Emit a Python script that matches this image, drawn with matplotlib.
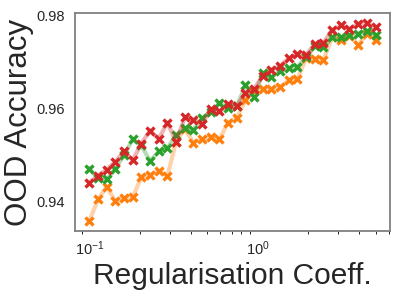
import matplotlib
matplotlib.use("Agg")
import matplotlib.pyplot as plt
import numpy as np

# regularisation coefficients (log spaced)
coeff = np.geomspace(0.1, 5, 34)

acc_orange = [0.9358, 0.9405, 0.9432, 0.9401, 0.9408, 0.9409, 0.9453, 0.9457, 0.9466, 0.9455,
              0.9529, 0.9557, 0.9527, 0.9534, 0.9538, 0.9534, 0.9570, 0.9580, 0.9618, 0.9639,
              0.9643, 0.9642, 0.9646, 0.9662, 0.9664, 0.9708, 0.9707, 0.9705, 0.9753, 0.9747,
              0.9757, 0.9737, 0.9760, 0.9748]
acc_green = [0.9471, 0.9450, 0.9448, 0.9471, 0.9500, 0.9534, 0.9521, 0.9487, 0.9508, 0.9515,
             0.9544, 0.9558, 0.9555, 0.9580, 0.9593, 0.9612, 0.9602, 0.9605, 0.9650, 0.9625,
             0.9676, 0.9668, 0.9681, 0.9687, 0.9690, 0.9710, 0.9734, 0.9732, 0.9753, 0.9753,
             0.9758, 0.9761, 0.9768, 0.9759]
acc_red = [0.9441, 0.9456, 0.9469, 0.9486, 0.9508, 0.9489, 0.9525, 0.9553, 0.9535, 0.9570,
           0.9529, 0.9581, 0.9576, 0.9567, 0.9599, 0.9594, 0.9609, 0.9606, 0.9633, 0.9643,
           0.9670, 0.9684, 0.9692, 0.9708, 0.9717, 0.9716, 0.9739, 0.9742, 0.9769, 0.9779,
           0.9771, 0.9783, 0.9784, 0.9775]

plt.rcParams['font.family'] = ['Liberation Sans', 'DejaVu Sans']
plt.rcParams['mathtext.default'] = 'regular'

fig = plt.figure(figsize=(3.99, 2.99), dpi=100)
ax = fig.add_axes([0.188, 0.227, 0.789, 0.729])

for ys, c in [(acc_orange, 'tab:orange'), (acc_green, 'tab:green'), (acc_red, 'tab:red')]:
    ax.plot(coeff, ys, color=c, lw=3, alpha=0.35)
    ax.plot(coeff, ys, ls='none', marker='x', ms=6.2, mew=2.4, color=c)

ax.set_xscale('log')
ax.set_yticks([0.94, 0.96, 0.98])
ax.tick_params(length=0, labelsize=10.5, colors='#262626')
ax.tick_params(axis='y', pad=7)
ax.tick_params(axis='x', pad=6)
for s in ax.spines.values():
    s.set_color('#808080')
    s.set_linewidth(1.3)

ax.set_xlabel("Regularisation Coeff.", fontsize=21.5, color='#262626', labelpad=3)
ax.set_ylabel("OOD Accuracy", fontsize=22.5, color='#262626', labelpad=2)

fig.savefig("out.png", dpi=100)
